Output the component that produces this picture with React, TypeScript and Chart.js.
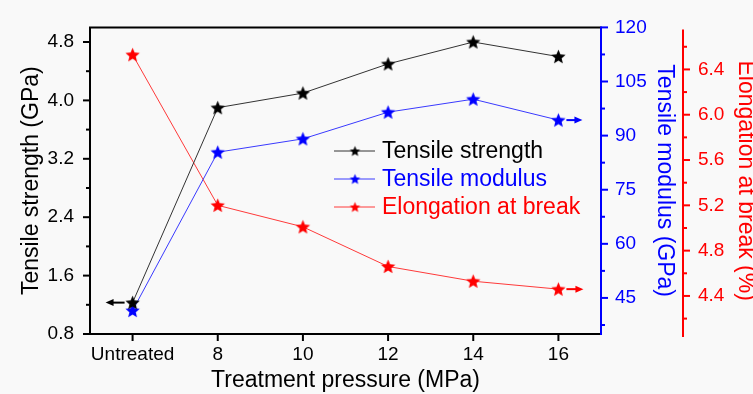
import React, { useEffect, useRef } from 'react';
import { Chart, registerables } from 'chart.js';

Chart.register(...registerables);

const categories = ['Untreated', '8', '10', '12', '14', '16'];
const tensileStrength = [1.23, 3.9, 4.1, 4.5, 4.8, 4.6];
const tensileModulus = [41.5, 85.4, 89.1, 96.5, 100.1, 94.3];
const elongation = [6.53, 5.2, 5.01, 4.66, 4.53, 4.46];

const strengthTicks = [0.8, 1.6, 2.4, 3.2, 4.0, 4.8];
const modulusTicks = [45, 60, 75, 90, 105, 120];
const elongationTicks = [4.4, 4.8, 5.2, 5.6, 6.0, 6.4];

const seriesNames = ['Tensile strength', 'Tensile modulus', 'Elongation at break'];
const seriesColors = ['#000000', '#0000ff', '#ff0000'];
const lineColors = ['#333333', '#3a3aff', '#ff3a3a'];

const xTitle = 'Treatment pressure (MPa)';
const strengthTitle = 'Tensile strength (GPa)';
const modulusTitle = 'Tensile modulus (GPa)';
const elongationTitle = 'Elongation at break (%)';

const FONT = "'Liberation Sans', Arial, sans-serif";

function makeStar(color: string, r: number): HTMLCanvasElement {
  const c = document.createElement('canvas');
  const size = Math.ceil(r * 2 + 2);
  c.width = size;
  c.height = size;
  const ctx = c.getContext('2d')!;
  const cx = size / 2;
  const cy = size / 2 + r * 0.08;
  const inner = r * 0.45;
  ctx.beginPath();
  for (let i = 0; i < 10; i++) {
    const rad = i % 2 === 0 ? r : inner;
    const a = -Math.PI / 2 + (i * Math.PI) / 5;
    const x = cx + rad * Math.cos(a);
    const y = cy + rad * Math.sin(a);
    if (i === 0) ctx.moveTo(x, y);
    else ctx.lineTo(x, y);
  }
  ctx.closePath();
  ctx.fillStyle = color;
  ctx.fill();
  return c;
}

function pickLabel(list: number[], value: number, digits: number): string {
  const m = list.find((t) => Math.abs(t - value) < 1e-6);
  return m === undefined ? '' : m.toFixed(digits);
}

function minorOf(list: number[], lo: number, hi: number): number[] {
  const step = list[1] - list[0];
  const out: number[] = [];
  const cands = [list[0] - step / 2, ...list.map((v) => v + step / 2)];
  cands.forEach((v) => {
    if (v >= lo - 1e-9 && v <= hi + 1e-9) out.push(v);
  });
  return out;
}

export default function App() {
  const ref = useRef<HTMLCanvasElement | null>(null);

  useEffect(() => {
    document.body.style.margin = '0';
    const canvas = ref.current!;
    const stars = seriesColors.map((c) => makeStar(c, 7.5));
    const legendStars = seriesColors.map((c) => makeStar(c, 5.5));

    const drawArrow = (ctx: CanvasRenderingContext2D, x1: number, x2: number, y: number, color: string) => {
      const dir = x2 > x1 ? 1 : -1;
      ctx.save();
      ctx.strokeStyle = color;
      ctx.fillStyle = color;
      ctx.lineWidth = 2;
      ctx.beginPath();
      ctx.moveTo(x1, y);
      ctx.lineTo(x2 - dir * 6, y);
      ctx.stroke();
      ctx.beginPath();
      ctx.moveTo(x2, y);
      ctx.lineTo(x2 - dir * 8, y - 3.5);
      ctx.lineTo(x2 - dir * 8, y + 3.5);
      ctx.closePath();
      ctx.fill();
      ctx.restore();
    };

    const decor = {
      id: 'decor',
      beforeDraw(chart: any) {
        const ctx = chart.ctx;
        ctx.save();
        ctx.fillStyle = '#f9f9f9';
        ctx.fillRect(0, 0, chart.width, chart.height);
        ctx.restore();
      },
      afterDatasetsDraw(chart: any) {
        const ctx: CanvasRenderingContext2D = chart.ctx;
        const { left, right, top, bottom } = chart.chartArea;
        const sx = chart.scales.x;
        const sy = chart.scales.y;
        const sb = chart.scales.y1;
        const sr = chart.scales.y2;
        ctx.save();
        ctx.lineWidth = 2;
        ctx.lineCap = 'butt';
        ctx.strokeStyle = '#000';
        ctx.beginPath();
        ctx.moveTo(right, top);
        ctx.lineTo(left, top);
        ctx.lineTo(left, bottom);
        ctx.lineTo(right, bottom);
        ctx.stroke();
        const tick = (x1: number, y1: number, x2: number, y2: number) => {
          ctx.beginPath();
          ctx.moveTo(x1, y1);
          ctx.lineTo(x2, y2);
          ctx.stroke();
        };
        strengthTicks.forEach((v) => { const y = sy.getPixelForValue(v); tick(left - 7, y, left, y); });
        minorOf(strengthTicks, sy.min, sy.max).forEach((v) => { const y = sy.getPixelForValue(v); tick(left - 4, y, left, y); });
        categories.forEach((_, i) => { const x = sx.getPixelForValue(i); tick(x, bottom, x, bottom + 7); });
        ctx.strokeStyle = '#0000ff';
        tick(right, top - 1, right, bottom + 1);
        modulusTicks.forEach((v) => { const y = sb.getPixelForValue(v); tick(right, y, right + 7, y); });
        minorOf(modulusTicks, sb.min, sb.max).forEach((v) => { const y = sb.getPixelForValue(v); tick(right, y, right + 4, y); });
        ctx.strokeStyle = '#ff0000';
        const rx = sr.left;
        tick(rx, top + 2, rx, bottom + 3);
        elongationTicks.forEach((v) => { const y = sr.getPixelForValue(v); tick(rx, y, rx + 7, y); });
        minorOf(elongationTicks, sr.min, sr.max).forEach((v) => { const y = sr.getPixelForValue(v); tick(rx, y, rx + 4, y); });
        ctx.restore();

        const x0 = sx.getPixelForValue(0);
        const x5 = sx.getPixelForValue(categories.length - 1);
        drawArrow(ctx, x0 - 8, x0 - 27, sy.getPixelForValue(tensileStrength[0]), '#000');
        drawArrow(ctx, x5 + 8, x5 + 24, sb.getPixelForValue(tensileModulus[tensileModulus.length - 1]), '#0000ff');
        drawArrow(ctx, x5 + 8, x5 + 25, sr.getPixelForValue(elongation[elongation.length - 1]), '#ff0000');

        ctx.save();
        ctx.font = `23px ${FONT}`;
        ctx.textBaseline = 'middle';
        ctx.textAlign = 'left';
        const lx = 334;
        const rows = [151, 179, 207];
        seriesNames.forEach((name, i) => {
          const y = rows[i];
          ctx.strokeStyle = lineColors[i];
          ctx.lineWidth = 1;
          ctx.beginPath();
          ctx.moveTo(lx, y);
          ctx.lineTo(lx + 41, y);
          ctx.stroke();
          const st = legendStars[i];
          ctx.drawImage(st, lx + 21 - st.width / 2, y - st.height / 2);
          ctx.fillStyle = seriesColors[i];
          ctx.fillText(name, lx + 48, y + 1);
        });
        ctx.restore();
      },
    };

    const tickFont = { family: FONT, size: 19 };
    const titleFont = { family: FONT, size: 23 };

    const chart = new Chart(canvas, {
      type: 'line',
      data: {
        labels: categories,
        datasets: [
          { label: seriesNames[0], data: tensileStrength, yAxisID: 'y', borderColor: lineColors[0], borderWidth: 1, pointStyle: stars[0] as any, pointRadius: 7, tension: 0 },
          { label: seriesNames[1], data: tensileModulus, yAxisID: 'y1', borderColor: lineColors[1], borderWidth: 1, pointStyle: stars[1] as any, pointRadius: 7, tension: 0 },
          { label: seriesNames[2], data: elongation, yAxisID: 'y2', borderColor: lineColors[2], borderWidth: 1, pointStyle: stars[2] as any, pointRadius: 7, tension: 0 },
        ],
      },
      options: {
        responsive: false,
        animation: false,
        events: [],
        layout: { padding: { top: 20, left: 0, right: 0, bottom: 0 } },
        plugins: { legend: { display: false }, tooltip: { enabled: false } },
        scales: {
          x: {
            type: 'category',
            offset: true,
            grid: { display: false, drawTicks: false },
            border: { display: false },
            ticks: { color: '#000', font: tickFont, padding: 9, maxRotation: 0, autoSkip: false },
            title: { display: true, text: xTitle, color: '#000', font: titleFont, padding: { top: 0, bottom: 0 } },
            afterFit: (s: any) => { s.height = 60; },
          },
          y: {
            type: 'linear',
            position: 'left',
            min: 0.8,
            max: 5.0,
            grid: { display: false, drawTicks: false },
            border: { display: false },
            ticks: { stepSize: 0.8, includeBounds: false, color: '#000', font: tickFont, padding: 16, autoSkip: false, callback: (v: any) => pickLabel(strengthTicks, Number(v), 1) },
            title: { display: true, text: strengthTitle, color: '#000', font: titleFont, padding: { top: 18, bottom: 0 } },
            afterFit: (s: any) => { s.width = 90; },
          },
          y1: {
            type: 'linear',
            position: 'right',
            min: 35,
            max: 120,
            grid: { display: false, drawTicks: false },
            border: { display: false },
            ticks: { stepSize: 15, includeBounds: false, color: '#0000ff', font: tickFont, padding: 14, autoSkip: false, callback: (v: any) => pickLabel(modulusTicks, Number(v), 0) },
            title: { display: true, text: modulusTitle, color: '#0000ff', font: titleFont, padding: { top: 5, bottom: 0 } },
            afterFit: (s: any) => { s.width = 82; },
          },
          y2: {
            type: 'linear',
            position: 'right',
            min: 4.064,
            max: 6.771,
            grid: { display: false, drawTicks: false },
            border: { display: false },
            ticks: { stepSize: 0.4, includeBounds: false, color: '#ff0000', font: tickFont, padding: 15, autoSkip: false, callback: (v: any) => pickLabel(elongationTicks, Number(v), 1) },
            title: { display: true, text: elongationTitle, color: '#ff0000', font: { family: FONT, size: 23, lineHeight: 0.7 }, padding: { top: 0, bottom: 0 } },
            afterFit: (s: any) => { s.width = 70; },
          },
        },
      },
      plugins: [decor],
    } as any);

    return () => chart.destroy();
  }, []);

  return <canvas ref={ref} width={753} height={394} style={{ display: 'block' }} />;
}
